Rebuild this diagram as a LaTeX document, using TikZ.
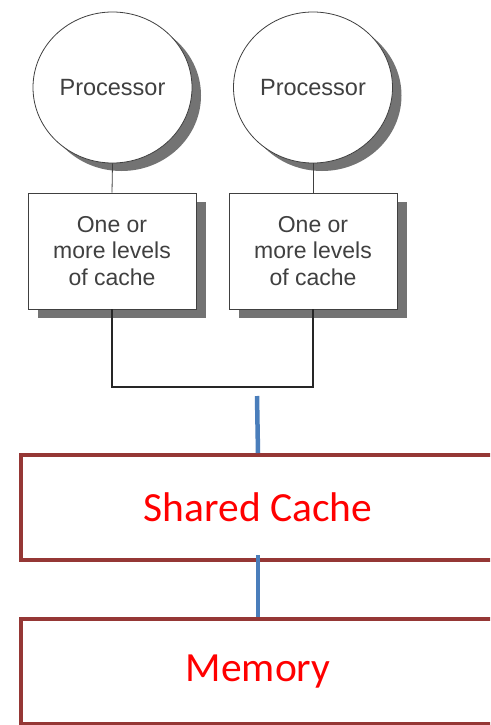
\documentclass[tikz,border=0pt]{standalone}
\usepackage{fontspec}
\newfontfamily\helv{Liberation Sans}
\newfontfamily\calib{Carlito}
\usetikzlibrary{shadows}
\definecolor{boxred}{HTML}{953735}
\definecolor{linkblue}{HTML}{4A7EBB}
\tikzset{
  proc/.style={ellipse, draw=black!75, line width=0.8pt, fill=white,
    minimum width=159pt, minimum height=151pt, inner sep=0pt,
    drop shadow={shadow xshift=9pt, shadow yshift=-8pt, fill=black!55, opacity=1},
    font=\helv\fontsize{23.5}{28}\selectfont, text=black!75},
  cachebox/.style={rectangle, draw=black!75, line width=0.8pt, fill=white,
    minimum width=168pt, minimum height=116pt, align=center,
    drop shadow={shadow xshift=10pt, shadow yshift=-9pt, fill=black!55, opacity=1},
    font=\helv\fontsize{23}{26.5}\selectfont, text=black!75},
  bigbox/.style={rectangle, draw=boxred, line width=4pt, fill=white,
    minimum width=474pt, minimum height=105pt,
    font=\calib\fontsize{41.5}{50}\selectfont, text=red},
  bus/.style={draw=black!85, line width=2pt},
  link/.style={draw=linkblue, line width=4.5pt}
}
\usetikzlibrary{shapes.geometric}
\begin{document}
\begin{tikzpicture}[x=1pt,y=-1pt]
\clip (0,0) rectangle (490,725);
\fill[white] (0,0) rectangle (490,725);
% processors and their caches
\node[proc] (proc1) at (112.5,87.5) {Processor};
\node[proc] (proc2) at (313,87.5) {Processor};
\node[cachebox] (cache1) at (112,251) {One or\\more levels\\of cache};
\node[cachebox] (cache2) at (313,251) {One or\\more levels\\of cache};
\draw[black!75, line width=0.8pt] (proc1.south) -- (cache1.north);
\draw[black!75, line width=0.8pt] (proc2.south) -- (cache2.north);
\coordinate (busmid) at (212,387);
\draw[bus] (cache1.south) |- (busmid) -| (cache2.south);
%
\node[bigbox] (shared) at (258,507.5) {Shared Cache};
\node[bigbox] (mem) at (258,671.5) {Memory};
\coordinate (tap) at (257,396);
\draw[link] (tap) -- (shared.north);
\draw[link] ([yshift=7pt]shared.south) -- (mem.north);
\end{tikzpicture}
\end{document}
